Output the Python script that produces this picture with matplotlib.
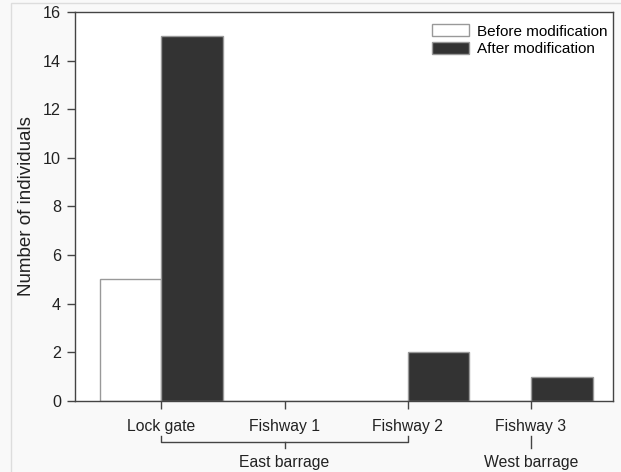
import numpy as np
import matplotlib.pyplot as plt
from matplotlib.lines import Line2D
from matplotlib.patches import Rectangle

plt.rcParams['font.family'] = ['Liberation Sans', 'DejaVu Sans']

# data
sites = ["Lock gate", "Fishway 1", "Fishway 2", "Fishway 3"]
before = [5, 0, 0, 0]
after = [15, 0, 2, 1]
groups = ["East barrage", "West barrage"]

x = np.arange(len(sites))
w = 0.5

fig = plt.figure(figsize=(6.21, 4.72), dpi=100, facecolor="#f9f9f9")
# light page border
fig.add_artist(Rectangle((11/621, -0.1), 1.2, 1.1 - 3/472, transform=fig.transFigure,
                         fill=False, edgecolor="#dddddd", lw=1))
ax = fig.add_axes([75/621, 71/472, 538/621, 389/472])
ax.set_facecolor("white")

ax.bar(x - w/2, before, w, color="white", edgecolor="#999999", lw=1,
       label="Before modification")
ax.bar(x + w/2, after, w, color="#333333", edgecolor="#999999", lw=1,
       label="After modification")

ax.set_xlim(-0.7, 3.665)
ax.set_ylim(0, 16)
ax.set_yticks(range(0, 17, 2))
ax.set_xticks(x)
ax.set_xticklabels(sites)
ax.tick_params(direction="out", length=6, width=1, color="#444444",
               labelsize=11.3, labelcolor="#222222", pad=7)
ax.tick_params(axis="y", labelsize=11.6, pad=4)
for s in ax.spines.values():
    s.set_color("#444444")
    s.set_linewidth(1)

ax.set_ylabel("Number of individuals", fontsize=13.5, color="#222222", labelpad=6)

# brackets for barrage groups
tr = ax.get_xaxis_transform()
yb = -0.105
lc = "#444444"
ax.add_line(Line2D([x[0], x[0], x[2], x[2]], [yb + 0.014, yb, yb, yb + 0.014],
                   transform=tr, color=lc, lw=1, clip_on=False))
ax.add_line(Line2D([x[1], x[1]], [yb, yb - 0.016], transform=tr, color=lc, lw=1,
                   clip_on=False))
ax.add_line(Line2D([x[3], x[3]], [yb + 0.014, yb - 0.016], transform=tr, color=lc,
                   lw=1, clip_on=False))
ax.text(x[1], -0.159, groups[0], transform=tr, ha="center", va="center",
        fontsize=11.3, color="#222222")
ax.text(x[3], -0.159, groups[1], transform=tr, ha="center", va="center",
        fontsize=11.3, color="#222222")

ax.legend(loc="upper right", bbox_to_anchor=(1 + 7/538, 1), frameon=False,
          fontsize=11, handlelength=2.4, handleheight=0.85, handletextpad=0.55,
          labelspacing=0.2, borderaxespad=0.4)

plt.savefig("out.png", dpi=100, facecolor=fig.get_facecolor())
